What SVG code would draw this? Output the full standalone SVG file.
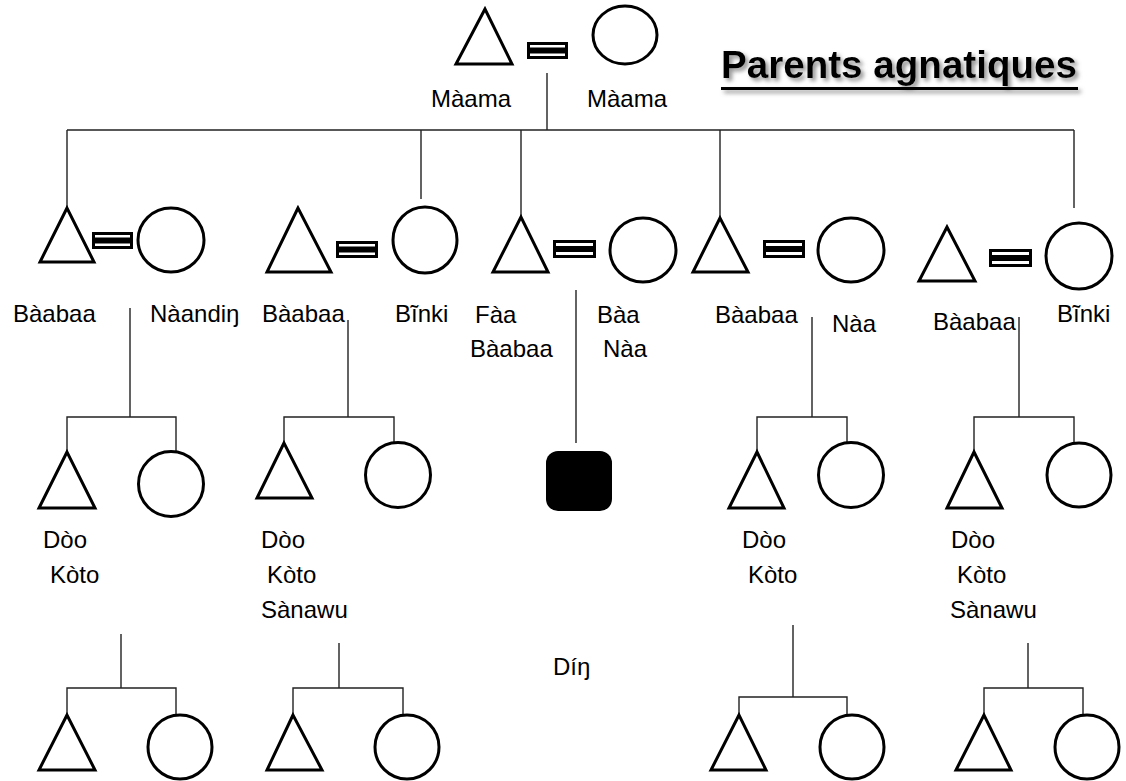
<svg xmlns="http://www.w3.org/2000/svg" width="1126" height="781" viewBox="0 0 1126 781">
<defs>
<style>
.sh{fill:#fff;stroke:#000;stroke-width:3;stroke-linejoin:miter}
.ln{fill:none;stroke:#222;stroke-width:1.4}
.lb{font-family:"Liberation Sans",Arial,sans-serif;font-size:24px;fill:#000}
.eqo{fill:#fff;stroke:#000;stroke-width:3}
.eqi{fill:#000}
.title{font-family:"Liberation Sans",Arial,sans-serif;font-size:39px;font-weight:bold;fill:#000}
</style>
<filter id="shadow" x="-10%" y="-30%" width="120%" height="160%">
<feDropShadow dx="3" dy="3" stdDeviation="2" flood-color="#777" flood-opacity="0.8"/>
</filter>
</defs>
<rect width="1126" height="781" fill="#fff"/>

<g id="connectors">
<path class="ln" d="M547 73V130M67 130H1074M67 130V208M421 130V199M521 130V217M720 130V218M1074 130V208"/>
<path class="ln" d="M130 308V417M67 452V417H176V452"/>
<path class="ln" d="M348 320V417M284 443V417H394V443"/>
<path class="ln" d="M576 290V443"/>
<path class="ln" d="M812 317V417M757 452V417H847V443"/>
<path class="ln" d="M1019 317V417M974 452V417H1074V443"/>
<path class="ln" d="M121 634V688M67 715V688H176V715"/>
<path class="ln" d="M339 643V688M293 715V688H403V715"/>
<path class="ln" d="M793 625V697M739 715V697H847V715"/>
<path class="ln" d="M1028 643V688M984 715V688H1083V715"/>
</g>

<g id="title" filter="url(#shadow)">
<text class="title" x="721" y="78" textLength="356" lengthAdjust="spacingAndGlyphs">Parents agnatiques</text>
<rect x="721" y="87" width="357" height="3" fill="#000"/>
</g>

<g id="grandparents">
<path class="sh" d="M485 9L456 64H512Z"/>
<rect class="eqo" x="528.5" y="43.5" width="38" height="14"/>
<rect class="eqi" x="527" y="47.5" width="41" height="6"/>
<ellipse class="sh" cx="625" cy="35" rx="32" ry="29"/>
<text class="lb" x="431" y="107">Màama</text>
<text class="lb" x="587" y="107">Màama</text>
</g>

<g id="couple1">
<path class="sh" d="M67 208L40 262H94Z"/>
<rect class="eqo" x="93.5" y="233.5" width="38" height="14"/>
<rect class="eqi" x="92" y="237.5" width="41" height="6"/>
<ellipse class="sh" cx="171" cy="240" rx="33" ry="32"/>
<text class="lb" x="13" y="322">Bàabaa</text>
<text class="lb" x="150" y="322">Nàandiŋ</text>
</g>

<g id="couple2">
<path class="sh" d="M298 208L267 272H331Z"/>
<rect class="eqo" x="337.5" y="242.5" width="39" height="14"/>
<rect class="eqi" x="336" y="246.5" width="42" height="6"/>
<ellipse class="sh" cx="425" cy="240" rx="32" ry="33"/>
<text class="lb" x="262" y="322">Bàabaa</text>
<text class="lb" x="395" y="322">Bĩnki</text>
</g>

<g id="couple3">
<path class="sh" d="M521 217L493 272H548Z"/>
<rect class="eqo" x="554.5" y="241.5" width="40" height="15"/>
<rect class="eqi" x="553" y="246" width="43" height="6"/>
<ellipse class="sh" cx="643" cy="250" rx="33" ry="32"/>
<text class="lb" x="475" y="323">Fàa</text>
<text class="lb" x="470" y="357">Bàabaa</text>
<text class="lb" x="597" y="323">Bàa</text>
<text class="lb" x="603" y="357">Nàa</text>
</g>

<g id="couple4">
<path class="sh" d="M720 218L693 272H748Z"/>
<rect class="eqo" x="764.5" y="241.5" width="39" height="15"/>
<rect class="eqi" x="763" y="246" width="42" height="6"/>
<ellipse class="sh" cx="851" cy="250" rx="33" ry="32"/>
<text class="lb" x="715" y="323">Bàabaa</text>
<text class="lb" x="832" y="332">Nàa</text>
</g>

<g id="couple5">
<path class="sh" d="M947 227L919 281H975Z"/>
<rect class="eqo" x="990.5" y="250.5" width="40" height="15"/>
<rect class="eqi" x="989" y="255" width="43" height="6"/>
<ellipse class="sh" cx="1079" cy="256" rx="33" ry="33"/>
<text class="lb" x="933" y="330">Bàabaa</text>
<text class="lb" x="1057" y="322">Bĩnki</text>
</g>

<g id="children1">
<path class="sh" d="M67 452L39 508H95Z"/>
<circle class="sh" cx="171" cy="484" r="32.5"/>
<text class="lb" x="43" y="548">Dòo</text>
<text class="lb" x="50" y="583">Kòto</text>
</g>

<g id="children2">
<path class="sh" d="M284 443L257 498H312Z"/>
<circle class="sh" cx="398" cy="475" r="32.5"/>
<text class="lb" x="261" y="548">Dòo</text>
<text class="lb" x="267" y="583">Kòto</text>
<text class="lb" x="261" y="618">Sànawu</text>
</g>

<g id="ego">
<rect x="546" y="451" width="66" height="60" rx="12" fill="#000"/>
</g>

<g id="children4">
<path class="sh" d="M757 452L729 508H784Z"/>
<circle class="sh" cx="851" cy="475" r="32.5"/>
<text class="lb" x="742" y="548">Dòo</text>
<text class="lb" x="748" y="583">Kòto</text>
</g>

<g id="children5">
<path class="sh" d="M974 452L947 508H1002Z"/>
<circle class="sh" cx="1079" cy="475" r="32"/>
<text class="lb" x="951" y="548">Dòo</text>
<text class="lb" x="957" y="583">Kòto</text>
<text class="lb" x="950" y="618">Sànawu</text>
</g>

<g id="grandchildren1">
<path class="sh" d="M67 715L39 770H95Z"/>
<circle class="sh" cx="180" cy="747" r="32"/>
</g>
<g id="grandchildren2">
<path class="sh" d="M293 715L267 770H322Z"/>
<circle class="sh" cx="407" cy="747" r="32"/>
</g>
<g id="din">
<text class="lb" x="553" y="675">Díŋ</text>
</g>
<g id="grandchildren4">
<path class="sh" d="M739 715L711 770H766Z"/>
<circle class="sh" cx="852" cy="747" r="32"/>
</g>
<g id="grandchildren5">
<path class="sh" d="M984 715L956 770H1011Z"/>
<circle class="sh" cx="1087" cy="747" r="32"/>
</g>
</svg>
